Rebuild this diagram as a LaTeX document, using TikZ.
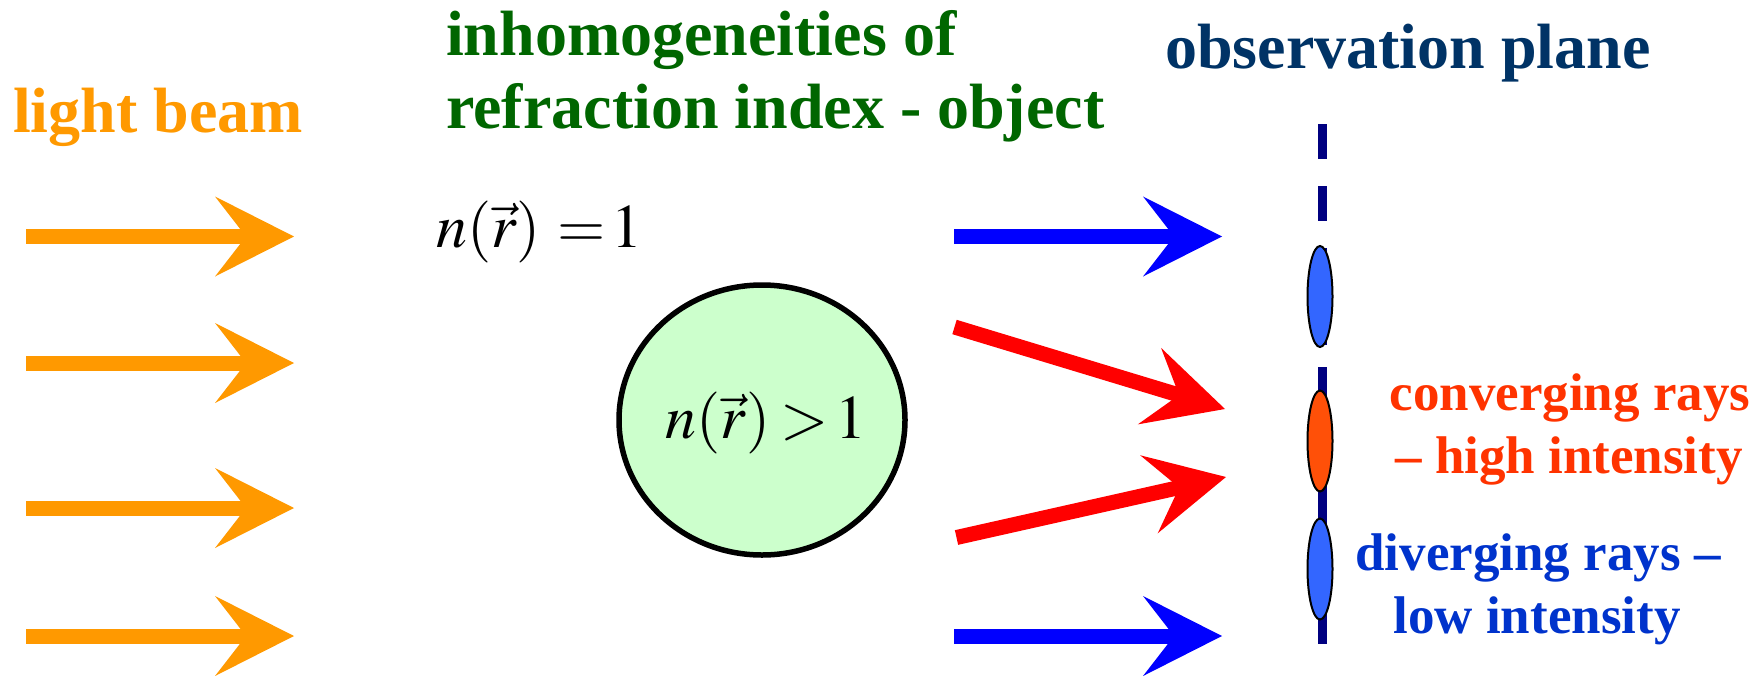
\documentclass[tikz,border=0pt]{standalone}
\usepackage{mathptmx}
\usepackage[no-math]{fontspec}
\setmainfont{Liberation Serif}
\usetikzlibrary{arrows.meta,shapes.geometric}
\definecolor{beamorange}{HTML}{FF9900}
\definecolor{objgreen}{HTML}{006600}
\definecolor{planenavy}{HTML}{003366}
\definecolor{linenavy}{HTML}{000080}
\definecolor{convred}{HTML}{FF3300}
\definecolor{divblue}{HTML}{0033CC}
\definecolor{spotblue}{HTML}{3366FF}
\definecolor{spotorange}{HTML}{FF5008}
\definecolor{objfill}{HTML}{CCFFCC}
\tikzset{
  fatarrow/.style={line width=15pt, -{Stealth[length=79pt, width=80pt, inset=31pt, line width=0pt]}},
  headtext/.style={font=\fontsize{64}{64}\selectfont\bfseries, inner sep=0pt, anchor=base west},
  sidetext/.style={font=\fontsize{53}{53}\selectfont\bfseries, inner sep=0pt, anchor=base},
  mathtext/.style={font=\fontsize{62}{62}\selectfont, inner sep=0pt},
  spot/.style={ellipse, draw=black, line width=2pt, minimum width=25pt, minimum height=101pt, inner sep=0pt},
}
\begin{document}
\begin{tikzpicture}[x=1pt,y=-1pt]
\useasboundingbox (0,0) rectangle (1763,675);
% headings
\node[headtext, text=beamorange] (lb) at (13,132) {light beam};
\node[headtext, text=objgreen] (g1) at (446,55) {inhomogeneities of};
\node[headtext, text=objgreen] (g2) at (446,128) {refraction index - object};
\node[headtext, text=planenavy] (op) at (1165,68) {observation plane};
% object
\node[ellipse, draw=black, fill=objfill, line width=5.5pt, minimum width=286pt, minimum height=270pt, inner sep=0pt] (obj) at (762,420) {};
\node[mathtext, anchor=base] (inside) at (766,438) {$n(\vec{r})\mskip3mu{>}\mskip2mu 1$};
\node[mathtext, anchor=base west] (outside) at (436,247) {$n(\vec{r})\mskip5mu{=}\mskip1.5mu 1$};
% incoming beams
\foreach \i/\y in {1/236.5,2/363,3/508,4/636}{
  \coordinate (os\i) at (26,\y);
  \coordinate (oe\i) at (294,\y);
  \draw[fatarrow, beamorange] (os\i) -- (oe\i);
}
% outgoing rays
\coordinate (bs1) at (954,236.5); \coordinate (be1) at (1222,236.5);
\coordinate (bs2) at (954,636);   \coordinate (be2) at (1222,636);
\coordinate (rs1) at (954.5,327); \coordinate (re1) at (1225,409);
\coordinate (rs2) at (956.5,537.5); \coordinate (re2) at (1226,477);
\draw[fatarrow, blue] (bs1) -- (be1);
\draw[fatarrow, blue] (bs2) -- (be2);
\draw[fatarrow, red] (rs1) -- (re1);
\draw[fatarrow, red] (rs2) -- (re2);
% observation plane
\coordinate (pa) at (1322.5,124);
\coordinate (pb) at (1322.5,345);
\coordinate (pc) at (1322.5,367);
\coordinate (pd) at (1322.5,644);
\draw[linenavy, line width=9pt, dash pattern=on 35pt off 27pt] (pa) -- (pb);
\draw[linenavy, line width=9pt] (pc) -- (pd);
\node[spot, fill=spotblue] (s1) at (1320,296.5) {};
\node[spot, fill=spotorange] (s2) at (1320,441) {};
\node[spot, fill=spotblue] (s3) at (1320,569) {};
% side labels
\node[sidetext, text=convred] (c1) at (1570,410) {converging rays};
\node[sidetext, text=convred] (c2) at (1569,473) {– high intensity};
\node[sidetext, text=divblue] (d1) at (1538,570) {diverging rays –};
\node[sidetext, text=divblue] (d2) at (1537,633) {low intensity};
\end{tikzpicture}
\end{document}
